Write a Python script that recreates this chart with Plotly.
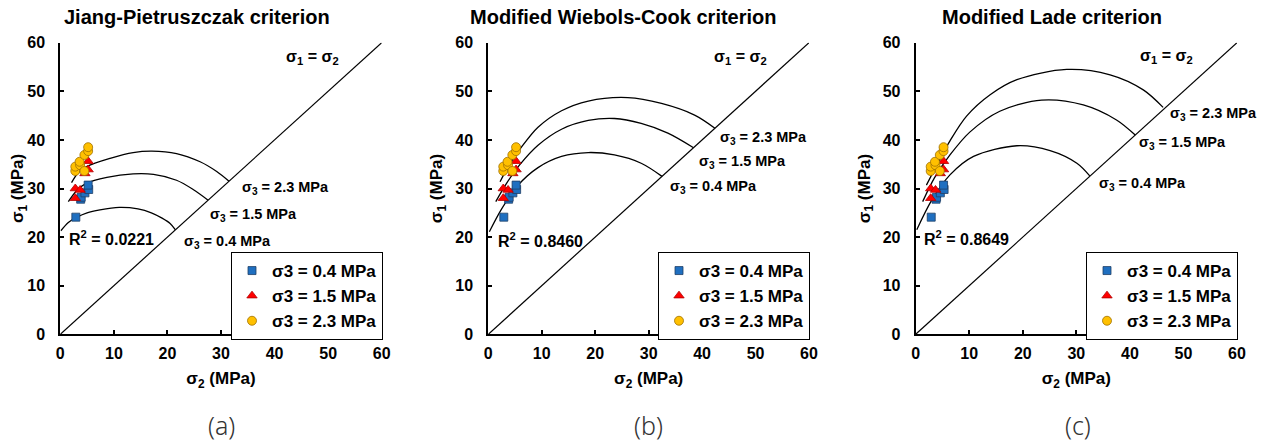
import plotly.graph_objects as go

# ---------------- data ----------------
# experimental points: sigma2, sigma1 (MPa)
s2_04 = [2.9, 3.8, 3.9, 4.6, 5.3, 5.2]
s1_04 = [24.1, 27.8, 28.2, 29.1, 29.8, 30.7]
s2_15 = [2.8, 3.7, 2.8, 5.2, 5.2, 4.6]
s1_15 = [30.0, 29.7, 28.0, 35.6, 33.9, 33.1]
s2_23 = [2.8, 2.8, 3.7, 3.6, 4.5, 4.5, 5.2, 5.2]
s1_23 = [33.6, 34.5, 34.8, 35.5, 36.9, 33.6, 37.7, 38.5]

# criterion curves, panel (a) Jiang-Pietruszczak
a04_x = [0.1, 1.5, 3.1, 5.0, 7.4, 11.0, 14.5, 17.0, 19.0, 20.5, 21.5]
a04_y = [21.3, 23.0, 24.1, 25.0, 25.6, 26.1, 25.8, 25.0, 23.9, 22.8, 21.5]
a15_x = [1.5, 3.0, 4.9, 8.7, 13.6, 17.4, 21.7, 24.8, 27.6]
a15_y = [27.3, 29.5, 31.1, 32.3, 33.0, 32.9, 31.7, 29.8, 27.6]
a23_x = [2.1, 3.3, 4.9, 9.3, 13.6, 17.1, 21.7, 26.1, 29.2, 31.5]
a23_y = [31.2, 33.2, 34.5, 36.2, 37.4, 37.7, 37.2, 35.5, 33.5, 31.5]

# panel (b) Modified Wiebols-Cook
b04_x = [0.2, 2.5, 5.5, 9.3, 13.7, 18.7, 23.6, 28.6, 32.5]
b04_y = [21.1, 25.8, 30.6, 34.3, 36.6, 37.4, 36.9, 35.2, 32.5]
b15_x = [1.4, 3.5, 5.9, 9.3, 13.7, 18.7, 23.6, 28.6, 33.6, 38.4]
b15_y = [27.3, 31.2, 34.9, 38.9, 42.2, 44.0, 44.4, 43.4, 41.4, 38.4]
b23_x = [2.2, 4.0, 6.2, 9.3, 13.7, 18.7, 26.1, 32.4, 38.6, 42.4]
b23_y = [31.4, 35.0, 38.5, 42.6, 46.0, 48.0, 48.7, 47.5, 45.1, 42.4]

# panel (c) Modified Lade
c04_x = [0.2, 3.0, 6.4, 10.8, 18.9, 25.1, 30.1, 32.5]
c04_y = [21.5, 27.6, 32.8, 36.6, 38.8, 37.8, 35.2, 32.6]
c15_x = [1.3, 3.5, 6.4, 10.1, 15.7, 23.5, 31.3, 37.5, 41.0]
c15_y = [27.3, 32.2, 36.9, 41.6, 45.9, 48.2, 47.2, 44.1, 41.0]
c23_x = [2.0, 4.5, 6.4, 9.5, 13.9, 18.9, 28.2, 36.3, 42.5, 46.2]
c23_y = [30.7, 36.0, 39.8, 44.9, 49.3, 52.4, 54.5, 53.4, 50.3, 46.7]

diag = [0, 60]

titles = ["Jiang-Pietruszczak criterion", "Modified Wiebols-Cook criterion",
          "Modified Lade criterion"]
r2_values = ["0.0221", "0.8460", "0.8649"]
captions = ["(a)", "(b)", "(c)"]
series_names = ["σ3 = 0.4 MPa", "σ3 = 1.5 MPa", "σ3 = 2.3 MPa"]
curve_labels = ["σ<sub>3</sub> = 0.4 MPa", "σ<sub>3</sub> = 1.5 MPa", "σ<sub>3</sub> = 2.3 MPa"]
tick_vals = [0, 10, 20, 30, 40, 50, 60]

curves = [
    [(a04_x, a04_y), (a15_x, a15_y), (a23_x, a23_y)],
    [(b04_x, b04_y), (b15_x, b15_y), (b23_x, b23_y)],
    [(c04_x, c04_y), (c15_x, c15_y), (c23_x, c23_y)],
]

# ---------------- layout geometry ----------------
OFF = 8                      # page body margin of the html page
W, H = 1266 - OFF, 442 - OFF
FONT = "Liberation Sans, Arial, sans-serif"
x_dom_px = [(60.3, 381.7), (488.3, 809.0), (915.7, 1237.0)]
y_dom_px = (42.7, 334.3)

def pxx(v):
    return (v - OFF) / W

def pxy(v):
    return 1 - (v - OFF) / H

lab_pos = [
    [(22.7, 19.0), (27.6, 24.5), (33.5, 30.1)],
    [(33.6, 30.3), (39.0, 35.5), (42.9, 40.4)],
    [(33.9, 30.9), (41.3, 39.4), (47.1, 45.3)],
]
r2_pos = [(1.2, 19.8), (1.4, 19.4), (1.2, 19.8)]
eq_pos = [(47.1, 56.9), (47.1, 56.9), (46.9, 57.1)]
title_cx = [197, 623, 1052]
caption_cx = [221, 648, 1078]
legend_right = [383, 810, 1238]

markers = [
    dict(symbol="square", size=8, color="#1F6FC0", line=dict(color="#1F3F66", width=0.8)),
    dict(symbol="triangle-up", size=9, color="#FF0000", line=dict(color="#B00000", width=0.8)),
    dict(symbol="circle", size=9, color="#FFC000", line=dict(color="#A07000", width=0.8)),
]
pts = [(s2_04, s1_04), (s2_15, s1_15), (s2_23, s1_23)]

fig = go.Figure()
annotations = []
layout = {}

for i in range(3):
    sfx = "" if i == 0 else str(i + 1)
    xa, ya = "x" + sfx, "y" + sfx
    leg = "legend" + sfx
    fig.add_trace(go.Scatter(x=diag, y=diag, mode="lines", xaxis=xa, yaxis=ya,
                             line=dict(color="black", width=1.2), showlegend=False,
                             hoverinfo="skip"))
    for cx, cy in curves[i]:
        fig.add_trace(go.Scatter(x=cx, y=cy, mode="lines", xaxis=xa, yaxis=ya,
                                 line=dict(color="black", width=1.3, shape="spline",
                                           smoothing=0.9),
                                 showlegend=False, hoverinfo="skip"))
    for k in range(3):
        fig.add_trace(go.Scatter(x=pts[k][0], y=pts[k][1], mode="markers",
                                 xaxis=xa, yaxis=ya, name=series_names[k],
                                 marker=markers[k], legend=leg))
    axis_common = dict(range=[0, 60], tickvals=tick_vals, showgrid=False,
                       zeroline=False, showline=True, linecolor="black", linewidth=2,
                       ticks="inside", ticklen=4, tickwidth=1.5, tickcolor="black",
                       automargin=False,
                       tickfont=dict(family=FONT, size=16, color="black", weight="bold"))
    layout["xaxis" + sfx] = dict(
        axis_common, domain=[pxx(x_dom_px[i][0]), pxx(x_dom_px[i][1])],
        anchor=ya, ticklabelstandoff=3,
        title=dict(text="σ<sub>2</sub> (MPa)", standoff=12,
                   font=dict(family=FONT, size=17, color="black", weight="bold")))
    layout["yaxis" + sfx] = dict(
        axis_common, domain=[pxy(y_dom_px[1]), pxy(y_dom_px[0])],
        anchor=xa, ticklabelstandoff=10,
        title=dict(text="σ<sub>1</sub> (MPa)", standoff=8,
                   font=dict(family=FONT, size=17, color="black", weight="bold")))
    layout[leg] = dict(
        x=pxx(legend_right[i]), xanchor="right", y=pxy(252), yanchor="top",
        bordercolor="black", borderwidth=1, bgcolor="white",
        font=dict(family=FONT, size=17, color="black", weight="bold"),
        itemwidth=30, tracegroupgap=0)

    annotations.append(dict(text="<b>" + titles[i] + "</b>", x=pxx(title_cx[i]), y=pxy(17),
                            xref="paper", yref="paper", xanchor="center", yanchor="middle",
                            showarrow=False, borderpad=0,
                            font=dict(family=FONT, size=20, color="black")))
    annotations.append(dict(text=captions[i], x=pxx(caption_cx[i]), y=pxy(425),
                            xref="paper", yref="paper", xanchor="center", yanchor="middle",
                            showarrow=False,
                            font=dict(family="Noto Sans, sans-serif", size=25, color="#333333",
                                      weight=300)))
    for k in range(3):
        annotations.append(dict(text=curve_labels[k], x=lab_pos[i][k][0], y=lab_pos[i][k][1],
                                xref=xa, yref=ya, xanchor="left", yanchor="middle",
                                showarrow=False,
                                font=dict(family=FONT, size=14.5, color="black", weight="bold")))
    annotations.append(dict(text="R<sup>2</sup> = " + r2_values[i], x=r2_pos[i][0], y=r2_pos[i][1],
                            xref=xa, yref=ya, xanchor="left", yanchor="middle",
                            showarrow=False,
                            font=dict(family=FONT, size=16, color="black", weight="bold")))
    annotations.append(dict(text="σ<sub>1</sub> = σ<sub>2</sub>", x=eq_pos[i][0], y=eq_pos[i][1],
                            xref=xa, yref=ya, xanchor="center", yanchor="middle",
                            showarrow=False,
                            font=dict(family=FONT, size=16, color="black", weight="bold")))

fig.update_layout(**layout)
fig.update_layout(width=W, height=H, margin=dict(l=0, r=0, t=0, b=0, autoexpand=False),
                  paper_bgcolor="white", plot_bgcolor="white",
                  annotations=annotations, font=dict(family=FONT))
fig.write_html("out.html")
